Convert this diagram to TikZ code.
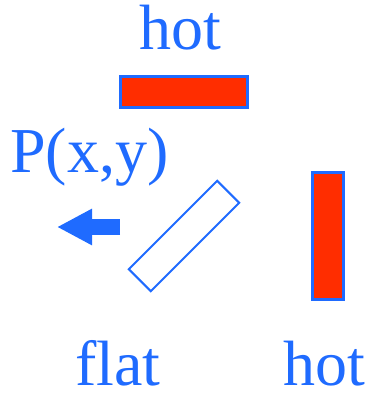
\documentclass[tikz,border=0pt]{standalone}
\usepackage{fontspec}
\setmainfont{Liberation Serif}
\usetikzlibrary{arrows.meta,positioning}
\definecolor{chbleu}{HTML}{1F6BFF}
\definecolor{chrouge}{HTML}{FF2D00}

\begin{document}
\begin{tikzpicture}[x=1pt,y=1pt,
  lbl/.style={text=chbleu,inner sep=0pt,anchor=base,font=\fontsize{64}{76}\selectfont},
  hot/.style={rectangle,draw=chbleu,fill=chrouge,line width=3pt,inner sep=0pt},
  plate/.style={rectangle,draw=chbleu,fill=white,line width=2pt,inner sep=0pt},
  push/.style={line width=16pt,chbleu,-{Triangle[length=35pt,width=34pt]}}]
  \useasboundingbox (0,0) rectangle (370,394);
  % plaques chaudes et plaque plate
  \node[hot,minimum width=127pt,minimum height=31pt] (hottop) at (184,302) {};
  \node[hot,minimum width=31pt,minimum height=127pt] (hotright) at (328,158) {};
  \node[plate,minimum width=125pt,minimum height=31pt,rotate=45] (flatplate) at (184,158) {};
  % textes
  \node[lbl] (hottxt) at (180.5,344) {hot};
  \node[lbl,anchor=base west] (ptxt) at (10,221) {P(x,y)};
  \node[lbl,text depth=0pt] (flattxt) at (118,9) {flat};
  \node[lbl,text depth=0pt] (hottxtb) at (324,9) {hot};
  % fleche
  \coordinate (arrstart) at (120,167);
  \coordinate (arrend) at (57,167);
  \draw[push] (arrstart) -- (arrend);
\end{tikzpicture}
\end{document}
